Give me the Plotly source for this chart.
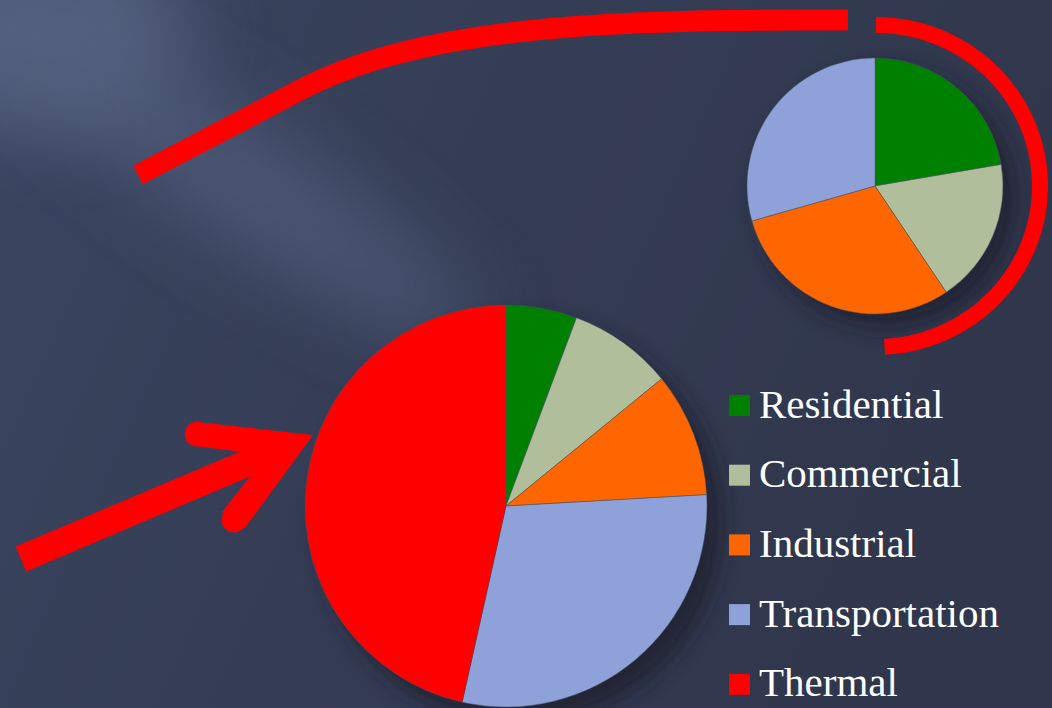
import base64
import math
import plotly.graph_objects as go

# ---------------- data ----------------
categories = ["Residential", "Commercial", "Industrial", "Transportation", "Thermal"]
small_values = [22.3, 18.3, 30.0, 29.4]          # end-use sectors (small pie)
big_values = [5.7, 8.4, 10.0, 29.4, 46.5]         # incl. thermal losses (big pie)
colors = ["#008000", "#b0be9c", "#ff6600", "#8ea1d8", "#ff0000"]

W, H = 1052, 708


def px(x):
    return x / W


def py(y):
    return 1 - y / H


# ---------------- background (gradient + streak + shadows) ----------------
svg = f"""<svg xmlns="http://www.w3.org/2000/svg" width="{W}" height="{H}" viewBox="0 0 {W} {H}">
<defs>
<linearGradient id="g" x1="0" y1="0" x2="1" y2="0.3">
<stop offset="0" stop-color="#3b4560"/>
<stop offset="0.5" stop-color="#353d55"/>
<stop offset="1" stop-color="#30374c"/>
</linearGradient>
<filter id="b1" filterUnits="userSpaceOnUse" x="-600" y="-600" width="2400" height="2000"><feGaussianBlur stdDeviation="40"/></filter>
<filter id="b2" filterUnits="userSpaceOnUse" x="-600" y="-600" width="2400" height="2000"><feGaussianBlur stdDeviation="10"/></filter>
</defs>
<rect x="0" y="0" width="{W}" height="{H}" fill="url(#g)"/>
<ellipse cx="40" cy="30" rx="150" ry="100" fill="#5b6988" opacity="0.75" filter="url(#b1)"/>
<ellipse cx="240" cy="180" rx="280" ry="55" transform="rotate(34 240 180)" fill="#52617f" opacity="0.7" filter="url(#b1)"/>
<circle cx="886" cy="198" r="130" fill="#1a1e2c" opacity="0.7" filter="url(#b2)"/>
<circle cx="520" cy="522" r="203" fill="#1a1e2c" opacity="0.7" filter="url(#b2)"/>
</svg>"""
bg_src = "data:image/svg+xml;base64," + base64.b64encode(svg.encode()).decode()

fig = go.Figure()

# ---------------- pies ----------------
fig.add_trace(go.Pie(
    labels=categories[:4], values=small_values,
    marker=dict(colors=colors[:4], line=dict(color="rgba(70,80,100,0.8)", width=0.6)),
    sort=False, direction="clockwise", rotation=0, textinfo="none",
    domain=dict(x=[px(747), px(1003)], y=[py(314), py(58)]),
    showlegend=False, hoverinfo="label+value",
))
fig.add_trace(go.Pie(
    labels=categories, values=big_values,
    marker=dict(colors=colors, line=dict(color="rgba(70,80,100,0.8)", width=0.6)),
    sort=False, direction="clockwise", rotation=0, textinfo="none",
    domain=dict(x=[px(305), px(707)], y=[py(707), py(305)]),
    showlegend=False, hoverinfo="label+value",
))

# ---------------- red decorations ----------------
shapes = []
RED = "#ff0000"


def path_from(points, close=False):
    s = "M " + " L ".join(f"{px(x):.5f},{py(y):.5f}" for x, y in points)
    return s + (" Z" if close else "")


def cubic(p0, p1, p2, p3, n=40):
    pts = []
    for i in range(n + 1):
        t = i / n
        a, b, c, d = (1 - t) ** 3, 3 * t * (1 - t) ** 2, 3 * t * t * (1 - t), t ** 3
        pts.append((a * p0[0] + b * p1[0] + c * p2[0] + d * p3[0],
                    a * p0[1] + b * p1[1] + c * p2[1] + d * p3[1]))
    return pts


# top sweeping curve
curve = [(138, 175)] + cubic((300, 90), (433, 20), (648, 20), (848, 20))
shapes.append(dict(type="path", xref="paper", yref="paper", path=path_from(curve),
                   line=dict(color=RED, width=21)))

# arc around the small pie
arc = []
for i in range(61):
    ang = math.radians(177 * i / 60)
    arc.append((876 + 164 * math.sin(ang), 186 - 161 * math.cos(ang)))
shapes.append(dict(type="path", xref="paper", yref="paper", path=path_from(arc),
                   line=dict(color=RED, width=16)))

# arrow: shaft
shapes.append(dict(type="path", xref="paper", yref="paper",
                   path=path_from([(21, 559), (285, 447)]),
                   line=dict(color=RED, width=27)))
# arrow: head
head = [(313, 435), (197, 422), (195, 446), (242, 452), (252, 474), (222, 512), (245, 528)]
shapes.append(dict(type="path", xref="paper", yref="paper", path=path_from(head, close=True),
                   fillcolor=RED, line=dict(color=RED, width=0)))
for cx, cy, r in [(197, 434, 12.3), (234, 520, 12.3)]:
    shapes.append(dict(type="circle", xref="paper", yref="paper",
                       x0=px(cx - r), x1=px(cx + r), y0=py(cy + r), y1=py(cy - r),
                       fillcolor=RED, line=dict(width=0)))

# ---------------- legend ----------------
annotations = []
legend_y0, legend_dy = 405.5, 69.7
for i, (cat, col) in enumerate(zip(categories, colors)):
    yc = legend_y0 + i * legend_dy
    shapes.append(dict(type="rect", xref="paper", yref="paper",
                       x0=px(729), x1=px(750), y0=py(yc + 10.5), y1=py(yc - 10.5),
                       fillcolor=col, line=dict(width=0)))
    annotations.append(dict(text=cat, xref="paper", yref="paper", x=px(757), y=py(yc - 2),
                            xanchor="left", yanchor="middle", showarrow=False,
                            font=dict(family="Liberation Serif", size=41, color="#ffffff")))

fig.update_layout(
    width=W, height=H,
    margin=dict(l=0, r=0, t=0, b=0),
    paper_bgcolor="#343b52",
    showlegend=False,
    shapes=shapes,
    annotations=annotations,
    images=[dict(source=bg_src, xref="paper", yref="paper", x=0, y=1, sizex=1, sizey=1,
                 xanchor="left", yanchor="top", sizing="stretch", layer="below")],
)

fig.write_html("out.html")
